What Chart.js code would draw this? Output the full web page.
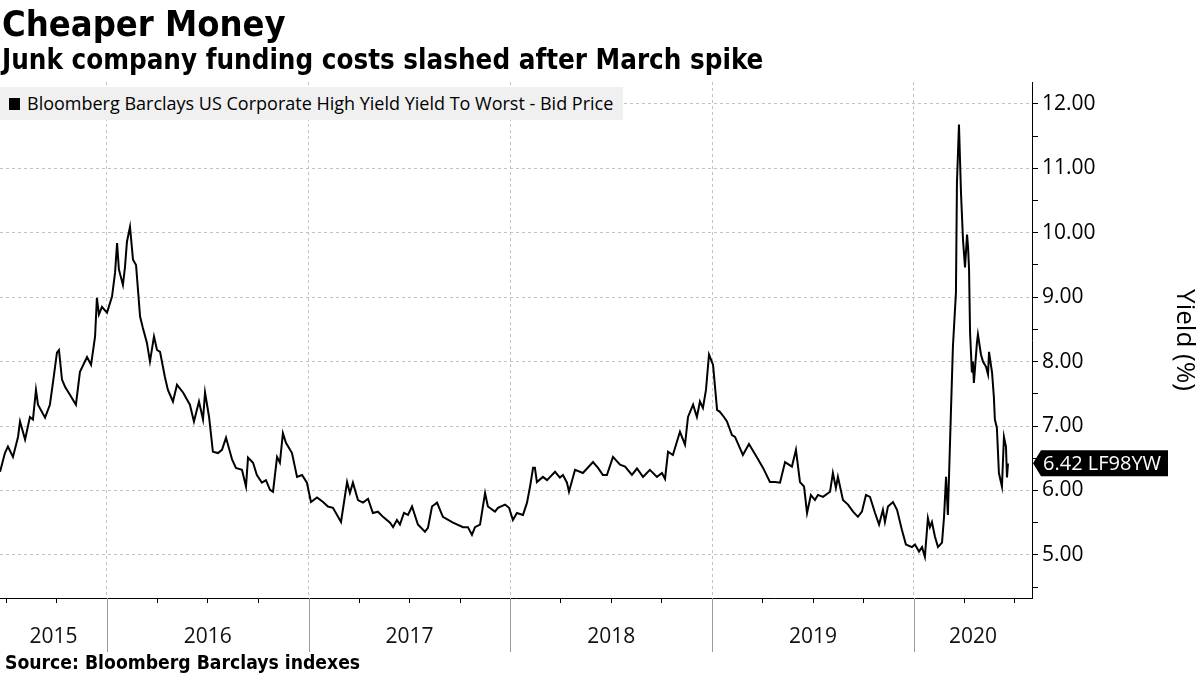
<!DOCTYPE html>
<html><head><meta charset="utf-8">
<script src="https://cdn.jsdelivr.net/npm/chart.js@4.4.0/dist/chart.umd.min.js"></script>
<style>
html,body{margin:0;padding:0;background:#fff;width:1200px;height:675px;overflow:hidden;}
#wrap{position:relative;width:1200px;height:675px;}
#c{position:absolute;left:0;top:0;}
.hd{position:absolute;left:2px;white-space:nowrap;color:#000;font-family:'DejaVu Sans Condensed','DejaVu Sans',sans-serif;font-stretch:condensed;font-weight:bold;}
#title{top:6px;font-size:36px;line-height:36px;}
#sub{top:45px;font-size:27.5px;line-height:28px;}
#src{top:653px;left:5px;font-size:19.2px;line-height:19px;}
#legend{position:absolute;left:0;top:87px;width:623px;height:33px;background:#f0f0f0;z-index:2;}
#legsw{position:absolute;left:9px;top:11px;width:11px;height:12px;background:#000;}
#legtx{position:absolute;left:27px;top:0;line-height:33px;font-family:'Open Sans',sans-serif;font-size:18px;color:#000;white-space:nowrap;}
</style>
</head><body>
<div id="wrap">
<canvas id="c" width="1200" height="675"></canvas>
<div class="hd" id="title">Cheaper Money</div>
<div class="hd" id="sub">Junk company funding costs slashed after March spike</div>
<div id="legend"><div id="legsw"></div><div id="legtx">Bloomberg Barclays US Corporate High Yield Yield To Worst - Bid Price</div></div>
<div class="hd" id="src">Source: Bloomberg Barclays indexes</div>
</div>
<script>
// ---- data (decimal year, yield %) ----
const dates = [
2015.470,2015.494,2015.509,2015.534,2015.559,2015.569,2015.594,2015.618,2015.633,2015.648,
2015.658,2015.693,2015.717,2015.732,2015.752,2015.762,2015.777,2015.792,2015.817,2015.846,
2015.866,2015.901,2015.921,2015.941,2015.950,2015.960,2015.975,2016.000,2016.025,2016.040,
2016.050,2016.059,2016.079,2016.089,2016.099,2016.114,2016.129,2016.144,2016.164,2016.178,
2016.198,2016.213,2016.233,2016.248,2016.263,2016.287,2016.302,2016.327,2016.347,2016.377,
2016.411,2016.431,2016.456,2016.476,2016.486,2016.506,2016.525,2016.550,2016.570,2016.590,
2016.620,2016.639,2016.669,2016.689,2016.699,2016.724,2016.743,2016.768,2016.788,2016.808,
2016.823,2016.843,2016.857,2016.872,2016.887,2016.917,2016.942,2016.967,2016.991,2017.011,
2017.041,2017.071,2017.095,2017.120,2017.160,2017.190,2017.204,2017.219,2017.244,2017.269,
2017.294,2017.318,2017.343,2017.368,2017.403,2017.418,2017.437,2017.452,2017.472,2017.492,
2017.512,2017.541,2017.576,2017.591,2017.611,2017.636,2017.665,2017.715,2017.765,2017.789,
2017.809,2017.824,2017.849,2017.874,2017.888,2017.923,2017.938,2017.973,2017.993,2018.012,
2018.032,2018.062,2018.082,2018.097,2018.112,2018.121,2018.131,2018.161,2018.181,2018.221,
2018.245,2018.260,2018.280,2018.290,2018.320,2018.359,2018.409,2018.434,2018.458,2018.478,
2018.508,2018.543,2018.568,2018.602,2018.627,2018.657,2018.691,2018.726,2018.751,2018.766,
2018.781,2018.805,2018.840,2018.865,2018.880,2018.905,2018.924,2018.939,2018.954,2018.969,
2018.984,2019.004,2019.024,2019.038,2019.058,2019.073,2019.098,2019.113,2019.152,2019.182,
2019.222,2019.252,2019.286,2019.311,2019.336,2019.361,2019.395,2019.415,2019.435,2019.455,
2019.470,2019.489,2019.509,2019.524,2019.549,2019.584,2019.598,2019.613,2019.623,2019.648,
2019.673,2019.698,2019.722,2019.742,2019.762,2019.782,2019.807,2019.827,2019.846,2019.856,
2019.871,2019.896,2019.916,2019.940,2019.960,2019.990,2020.005,2020.025,2020.040,2020.054,
2020.069,2020.079,2020.089,2020.104,2020.119,2020.139,2020.149,2020.159,2020.168,2020.183,
2020.193,2020.208,2020.213,2020.223,2020.233,2020.243,2020.253,2020.263,2020.268,2020.273,
2020.278,2020.287,2020.292,2020.297,2020.312,2020.317,2020.332,2020.342,2020.357,2020.367,
2020.372,2020.387,2020.396,2020.401,2020.411,2020.421,2020.436,2020.446,2020.456,2020.461,
2020.466];
const yields = [
6.29,6.58,6.68,6.52,6.83,7.07,6.79,7.14,7.10,7.56,
7.33,7.13,7.33,7.67,8.14,8.18,7.72,7.61,7.48,7.33,
7.84,8.07,7.95,8.39,8.99,8.73,8.85,8.76,9.01,9.38,
9.84,9.43,9.19,9.46,9.86,10.09,9.58,9.50,8.70,8.52,
8.29,8.00,8.39,8.18,8.15,7.76,7.56,7.38,7.64,7.52,
7.33,7.07,7.38,7.10,7.52,7.14,6.60,6.58,6.63,6.82,
6.48,6.35,6.32,6.06,6.51,6.43,6.24,6.12,6.16,6.01,
5.98,6.52,6.43,6.89,6.74,6.58,6.21,6.24,6.12,5.82,
5.89,5.82,5.75,5.73,5.51,6.13,5.96,6.12,5.85,5.81,
5.87,5.65,5.67,5.59,5.50,5.43,5.54,5.47,5.65,5.62,
5.75,5.47,5.36,5.42,5.75,5.81,5.59,5.50,5.43,5.43,
5.31,5.43,5.47,5.96,5.75,5.67,5.73,5.78,5.73,5.54,
5.65,5.62,5.81,6.06,6.35,6.35,6.13,6.21,6.16,6.29,
6.20,6.24,6.12,5.98,6.32,6.27,6.44,6.35,6.24,6.24,
6.52,6.40,6.37,6.24,6.34,6.21,6.32,6.21,6.27,6.18,
6.60,6.55,6.91,6.71,7.14,7.33,7.14,7.38,7.28,7.56,
8.11,7.95,7.25,7.22,7.14,7.07,6.86,6.83,6.55,6.72,
6.51,6.35,6.13,6.13,6.12,6.44,6.37,6.63,6.13,6.06,
5.65,5.93,5.85,5.93,5.90,5.98,6.27,6.04,6.21,5.85,
5.78,5.67,5.59,5.67,5.93,5.90,5.65,5.47,5.70,5.51,
5.75,5.82,5.70,5.39,5.16,5.12,5.16,5.05,5.12,4.97,
5.57,5.43,5.51,5.28,5.12,5.19,5.59,6.21,5.62,7.20,
8.23,9.07,10.78,11.68,10.62,9.89,9.46,9.97,9.78,9.43,
8.45,7.83,8.00,7.67,8.29,8.42,8.11,8.00,7.92,7.80,
8.15,7.83,7.45,7.10,6.97,6.27,6.06,6.83,6.68,6.20,
6.42];
const yearLabels = ['2015','2016','2017','2018','2019','2020'];
const yearStarts = [2015, 2016, 2017, 2018, 2019, 2020];
const yTickValues = [4.5,5,5.5,6,6.5,7,7.5,8,8.5,9,9.5,10,10.5,11,11.5,12];
const seriesName = 'Bloomberg Barclays US Corporate High Yield Yield To Worst - Bid Price';
const tickerName = 'LF98YW';

const X_MIN = 2015.4697, X_MAX = 2020.585;
const Y_MIN = 4.33, Y_MAX = 12.34;
const quarterTicks = [];
for (let q = Math.ceil(X_MIN * 4); q <= Math.floor(X_MAX * 4); q++) quarterTicks.push(q / 4);

const GRID = '#c2c2c2';
const isInt = v => Math.abs(v - Math.round(v)) < 1e-6;

const yearPlugin = {
  id: 'years',
  afterDraw(chart) {
    const xs = chart.scales.x, c = chart.ctx;
    c.save();
    c.strokeStyle = '#9a9a9a'; c.lineWidth = 1;
    yearStarts.forEach((ys, i) => {
      if (ys > X_MIN && ys < X_MAX) {
        const px = Math.round(xs.getPixelForValue(ys)) + 0.5;
        c.beginPath(); c.moveTo(px, xs.top); c.lineTo(px, xs.top + 54); c.stroke();
      }
      const lo = Math.max(ys, X_MIN), hi = Math.min(ys + 1, X_MAX);
      if (hi > lo) {
        const cx = (xs.getPixelForValue(lo) + xs.getPixelForValue(hi)) / 2;
        c.fillStyle = '#111';
        c.font = '21px "Open Sans"';
        c.textAlign = 'center'; c.textBaseline = 'middle';
        c.fillText(yearLabels[i], cx, xs.top + 39);
      }
    });
    c.restore();
  }
};

const tagPlugin = {
  id: 'lasttag',
  afterDraw(chart) {
    const meta = chart.getDatasetMeta(0);
    const pt = meta.data[meta.data.length - 1];
    const ysc = chart.scales.y, c = chart.ctx;
    const y = pt.y, x0 = ysc.left + 1, h = 13;
    c.save();
    c.fillStyle = '#000';
    c.beginPath();
    c.moveTo(x0, y); c.lineTo(x0 + 8, y - h); c.lineTo(1168, y - h);
    c.lineTo(1168, y + h); c.lineTo(x0 + 8, y + h); c.closePath(); c.fill();
    c.fillStyle = '#fff';
    c.font = '20px "Open Sans"';
    c.textAlign = 'left'; c.textBaseline = 'middle';
    c.fillText(yields[yields.length - 1].toFixed(2) + ' ' + tickerName, x0 + 10, y + 1);
    c.restore();
  }
};

new Chart(document.getElementById('c'), {
  type: 'line',
  data: {
    datasets: [{
      label: seriesName,
      data: dates.map((d, i) => ({ x: d, y: yields[i] })),
      borderColor: '#000', borderWidth: 2, pointRadius: 0, tension: 0, fill: false
    }]
  },
  options: {
    responsive: false, animation: false, devicePixelRatio: 1,
    layout: { padding: { top: 82, left: 0, right: 0, bottom: 0 } },
    plugins: { legend: { display: false }, tooltip: { enabled: false } },
    scales: {
      x: {
        type: 'linear', min: X_MIN, max: X_MAX,
        afterBuildTicks: s => { s.ticks = quarterTicks.map(v => ({ value: v })); },
        afterFit: s => { s.height = 77; },
        ticks: { display: false, autoSkip: false },
        grid: {
          color: c => (c.tick && isInt(c.tick.value)) ? GRID : 'rgba(0,0,0,0)',
          tickColor: c => (c.tick && isInt(c.tick.value)) ? 'rgba(0,0,0,0)' : '#000',
          tickLength: 5, lineWidth: 1, tickWidth: 1, tickBorderDash: [], borderDash: [3, 3]
        },
        border: { display: true, color: '#000', width: 1, dash: [3, 3] }
      },
      y: {
        position: 'right', min: Y_MIN, max: Y_MAX,
        afterBuildTicks: s => { s.ticks = yTickValues.map(v => ({ value: v })); },
        afterFit: s => { s.width = 168; },
        ticks: {
          autoSkip: false, padding: 4, color: '#000',
          font: { family: 'Open Sans', size: 21 },
          callback: v => isInt(v) ? Number(v).toFixed(2) : ''
        },
        grid: {
          color: c => (c.tick && isInt(c.tick.value)) ? GRID : 'rgba(0,0,0,0)',
          tickColor: '#000', tickLength: 6, lineWidth: 1, tickWidth: 1, tickBorderDash: [], borderDash: [3, 3]
        },
        border: { display: true, color: '#000', width: 1, dash: [3, 3] },
        title: { display: true, text: 'Yield (%)', color: '#000', font: { family: 'Open Sans', size: 26 }, padding: { top: 0, bottom: 0 } }
      }
    }
  },
  plugins: [yearPlugin, tagPlugin]
});
</script>
</body></html>
